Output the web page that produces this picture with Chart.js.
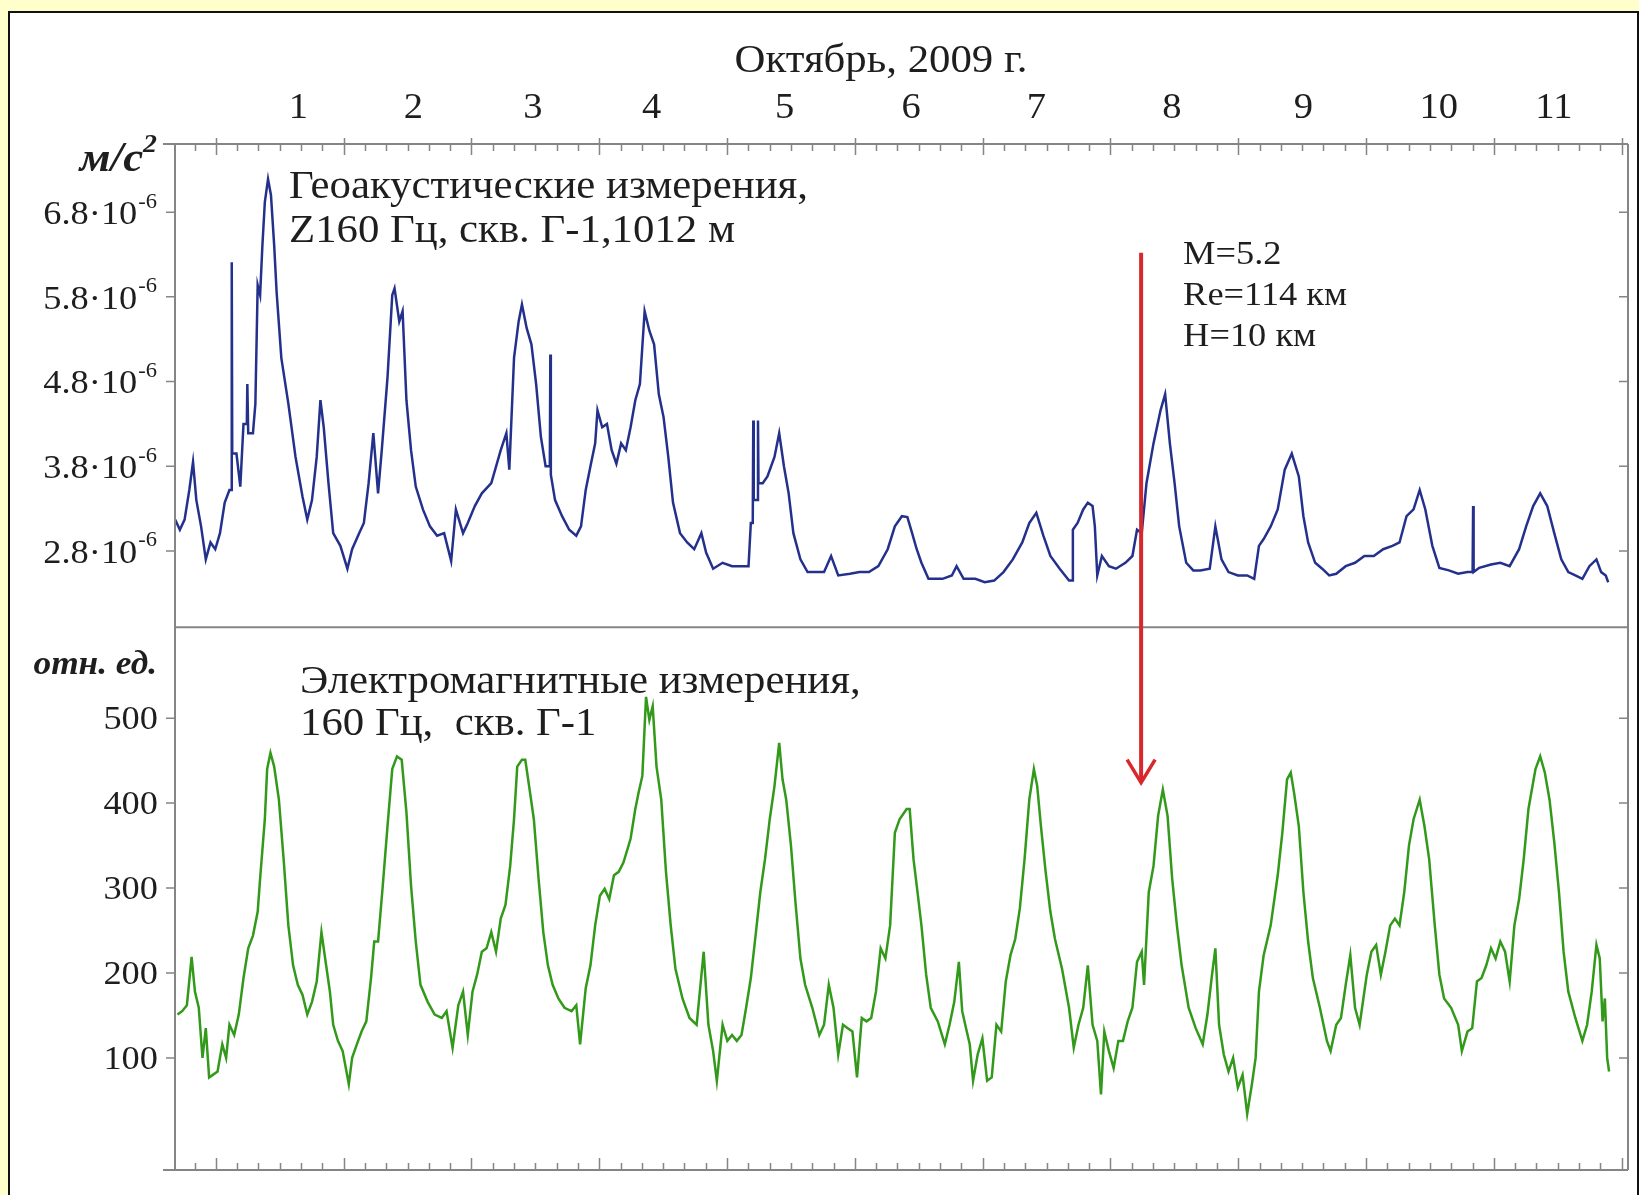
<!DOCTYPE html>
<html>
<head>
<meta charset="utf-8">
<script src="https://cdn.jsdelivr.net/npm/chart.js@4.4.1/dist/chart.umd.min.js"></script>
<style>
  html, body { margin: 0; padding: 0; }
  body { width: 1639px; height: 1195px; background: #ffffcc; position: relative; overflow: hidden; }
  #panel { position: absolute; left: 8px; top: 11px; width: 1627px; height: 1190px; background: #fff; border: 2px solid #111; }
  #wrap { position: absolute; left: 0; top: 0; width: 1639px; height: 1195px; }
</style>
</head>
<body>
<div id="panel"></div>
<div id="wrap"><canvas id="myChart" width="1639" height="1195"></canvas></div>
<script>
// time in days from 1 Oct 2009 00:00
const dayLabels = ['1', '2', '3', '4', '5', '6', '7', '8', '9', '10', '11']
const dayLabelPos = [0.645, 1.545, 2.48, 3.41, 4.45, 5.44, 6.42, 7.48, 8.51, 9.57, 10.47]

const geoTicks = [2.8, 3.8, 4.8, 5.8, 6.8]          // x 10^-6 m/s^2
const emTicks = [100, 200, 300, 400, 500]

// geoacoustic, Z 160 Hz, values in 10^-6 m/s^2
const geoDays = [
  -0.319, -0.282, -0.245, -0.208, -0.179, -0.153, -0.116, -0.079, -0.042, -0.005,
  0.032, 0.069, 0.106, 0.120, 0.124, 0.128, 0.161, 0.191, 0.216, 0.242,
  0.246, 0.253, 0.290, 0.309, 0.327, 0.346, 0.364, 0.383, 0.408, 0.431,
  0.456, 0.475, 0.512, 0.567, 0.623, 0.678, 0.715, 0.752, 0.789, 0.818,
  0.844, 0.881, 0.918, 0.974, 1.029, 1.066, 1.121, 1.158, 1.195, 1.232,
  1.269, 1.298, 1.343, 1.380, 1.398, 1.435, 1.461, 1.491, 1.527, 1.564,
  1.620, 1.675, 1.731, 1.786, 1.841, 1.878, 1.934, 1.971, 2.026, 2.081,
  2.155, 2.229, 2.273, 2.296, 2.333, 2.369, 2.395, 2.432, 2.469, 2.506,
  2.543, 2.580, 2.613, 2.617, 2.621, 2.654, 2.709, 2.765, 2.820, 2.857,
  2.894, 2.931, 2.968, 2.986, 3.023, 3.060, 3.097, 3.134, 3.171, 3.208,
  3.245, 3.282, 3.318, 3.355, 3.392, 3.429, 3.466, 3.503, 3.540, 3.577,
  3.632, 3.688, 3.743, 3.799, 3.836, 3.891, 3.965, 4.039, 4.113, 4.168,
  4.186, 4.201, 4.205, 4.209, 4.223, 4.238, 4.242, 4.246, 4.279, 4.316,
  4.371, 4.408, 4.445, 4.482, 4.519, 4.574, 4.630, 4.704, 4.759, 4.814,
  4.870, 4.962, 5.036, 5.110, 5.184, 5.257, 5.313, 5.368, 5.411, 5.448,
  5.484, 5.521, 5.576, 5.631, 5.686, 5.759, 5.796, 5.851, 5.943, 6.016,
  6.090, 6.163, 6.236, 6.310, 6.365, 6.420, 6.475, 6.530, 6.603, 6.676,
  6.700, 6.706, 6.743, 6.787, 6.823, 6.860, 6.878, 6.897, 6.933, 6.988,
  7.043, 7.117, 7.172, 7.208, 7.245, 7.282, 7.337, 7.392, 7.428, 7.465,
  7.502, 7.538, 7.593, 7.648, 7.703, 7.777, 7.821, 7.869, 7.924, 7.997,
  8.070, 8.125, 8.162, 8.199, 8.254, 8.309, 8.364, 8.419, 8.474, 8.510,
  8.547, 8.602, 8.657, 8.712, 8.767, 8.841, 8.914, 8.987, 9.061, 9.134,
  9.207, 9.262, 9.317, 9.372, 9.420, 9.464, 9.519, 9.574, 9.648, 9.721,
  9.794, 9.834, 9.838, 9.842, 9.886, 9.978, 10.051, 10.124, 10.198, 10.253,
  10.308, 10.363, 10.418, 10.473, 10.528, 10.583, 10.638, 10.693, 10.748, 10.803,
  10.840, 10.876, 10.895
]
const geoValues = [
  3.17, 3.05, 3.17, 3.52, 3.85, 3.40, 3.09, 2.70, 2.90, 2.82,
  3.01, 3.37, 3.52, 3.52, 6.21, 3.95, 3.95, 3.56, 4.30, 4.30,
  4.77, 4.19, 4.19, 4.54, 5.94, 5.82, 6.41, 6.92, 7.19, 7.00,
  6.41, 5.86, 5.08, 4.54, 3.91, 3.44, 3.17, 3.40, 3.91, 4.58,
  4.26, 3.60, 3.01, 2.86, 2.59, 2.82, 3.01, 3.13, 3.60, 4.19,
  3.48, 3.99, 4.85, 5.82, 5.90, 5.51, 5.63, 4.58, 3.99, 3.56,
  3.29, 3.09, 2.98, 3.01, 2.68, 3.29, 3.01, 3.13, 3.33, 3.48,
  3.60, 3.99, 4.19, 3.76, 5.08, 5.51, 5.71, 5.43, 5.24, 4.77,
  4.15, 3.80, 3.80, 5.12, 3.70, 3.40, 3.21, 3.05, 2.98, 3.09,
  3.52, 3.80, 4.07, 4.46, 4.26, 4.30, 3.99, 3.83, 4.07, 3.99,
  4.26, 4.58, 4.77, 5.63, 5.40, 5.24, 4.65, 4.38, 3.91, 3.37,
  3.01, 2.90, 2.82, 3.01, 2.78, 2.59, 2.66, 2.62, 2.62, 2.62,
  3.13, 3.13, 4.34, 3.40, 3.40, 3.40, 4.34, 3.60, 3.60, 3.68,
  3.91, 4.19, 3.80, 3.48, 3.01, 2.70, 2.55, 2.55, 2.55, 2.74,
  2.51, 2.53, 2.55, 2.55, 2.62, 2.82, 3.09, 3.21, 3.20, 3.01,
  2.82, 2.66, 2.47, 2.47, 2.47, 2.51, 2.62, 2.47, 2.47, 2.43,
  2.45, 2.55, 2.70, 2.90, 3.13, 3.25, 2.98, 2.74, 2.59, 2.45,
  2.45, 3.05, 3.13, 3.29, 3.37, 3.33, 3.09, 2.51, 2.74, 2.62,
  2.59, 2.66, 2.74, 3.05, 3.01, 3.60, 4.07, 4.46, 4.65, 4.07,
  3.60, 3.09, 2.66, 2.57, 2.57, 2.59, 3.09, 2.70, 2.55, 2.51,
  2.51, 2.47, 2.86, 2.94, 3.09, 3.29, 3.76, 3.95, 3.68, 3.21,
  2.90, 2.66, 2.59, 2.51, 2.53, 2.62, 2.66, 2.74, 2.74, 2.82,
  2.86, 2.90, 3.21, 3.29, 3.52, 3.29, 2.86, 2.60, 2.57, 2.53,
  2.55, 2.55, 3.33, 2.55, 2.60, 2.64, 2.66, 2.62, 2.82, 3.09,
  3.33, 3.48, 3.33, 3.01, 2.70, 2.55, 2.51, 2.47, 2.62, 2.70,
  2.55, 2.51, 2.43
]

// electromagnetic, 160 Hz, relative units
const emDays = [
  -0.301, -0.264, -0.227, -0.190, -0.164, -0.134, -0.105, -0.079, -0.053, -0.024,
  0.013, 0.050, 0.080, 0.106, 0.143, 0.179, 0.216, 0.253, 0.290, 0.327,
  0.346, 0.383, 0.401, 0.427, 0.456, 0.493, 0.530, 0.567, 0.604, 0.641,
  0.678, 0.715, 0.752, 0.789, 0.826, 0.855, 0.892, 0.918, 0.955, 0.992,
  1.040, 1.066, 1.103, 1.140, 1.177, 1.214, 1.239, 1.269, 1.306, 1.343,
  1.380, 1.417, 1.454, 1.491, 1.527, 1.564, 1.601, 1.657, 1.712, 1.768,
  1.805, 1.852, 1.897, 1.934, 1.971, 2.008, 2.044, 2.081, 2.118, 2.155,
  2.192, 2.229, 2.266, 2.303, 2.333, 2.358, 2.395, 2.421, 2.451, 2.488,
  2.525, 2.562, 2.598, 2.635, 2.680, 2.728, 2.783, 2.820, 2.850, 2.894,
  2.931, 2.968, 3.005, 3.042, 3.078, 3.115, 3.152, 3.189, 3.245, 3.282,
  3.307, 3.337, 3.366, 3.392, 3.418, 3.448, 3.485, 3.522, 3.559, 3.596,
  3.651, 3.706, 3.762, 3.817, 3.854, 3.891, 3.920, 3.965, 4.002, 4.039,
  4.076, 4.113, 4.149, 4.186, 4.223, 4.260, 4.297, 4.334, 4.371, 4.408,
  4.434, 4.463, 4.500, 4.537, 4.574, 4.611, 4.667, 4.722, 4.759, 4.796,
  4.833, 4.870, 4.907, 4.944, 4.981, 5.017, 5.054, 5.091, 5.128, 5.165,
  5.202, 5.239, 5.276, 5.313, 5.350, 5.405, 5.429, 5.459, 5.484, 5.521,
  5.558, 5.594, 5.649, 5.704, 5.741, 5.778, 5.814, 5.840, 5.870, 5.899,
  5.925, 5.961, 5.998, 6.035, 6.071, 6.108, 6.145, 6.181, 6.218, 6.255,
  6.291, 6.328, 6.365, 6.401, 6.427, 6.456, 6.493, 6.530, 6.566, 6.621,
  6.676, 6.713, 6.750, 6.787, 6.823, 6.860, 6.897, 6.926, 6.952, 6.988,
  7.025, 7.062, 7.098, 7.135, 7.172, 7.208, 7.245, 7.263, 7.300, 7.337,
  7.373, 7.410, 7.447, 7.483, 7.520, 7.557, 7.612, 7.667, 7.722, 7.759,
  7.795, 7.821, 7.850, 7.887, 7.924, 7.960, 7.997, 8.034, 8.070, 8.107,
  8.136, 8.162, 8.199, 8.254, 8.309, 8.345, 8.382, 8.411, 8.437, 8.474,
  8.510, 8.547, 8.584, 8.639, 8.694, 8.723, 8.767, 8.804, 8.841, 8.877,
  8.914, 8.950, 9.006, 9.042, 9.079, 9.116, 9.152, 9.189, 9.226, 9.262,
  9.299, 9.336, 9.372, 9.420, 9.457, 9.494, 9.538, 9.574, 9.611, 9.666,
  9.721, 9.750, 9.794, 9.831, 9.868, 9.904, 9.941, 9.978, 10.014, 10.051,
  10.088, 10.124, 10.161, 10.198, 10.234, 10.271, 10.326, 10.363, 10.399, 10.436,
  10.473, 10.510, 10.546, 10.583, 10.638, 10.693, 10.730, 10.766, 10.803, 10.829,
  10.851, 10.869, 10.887, 10.902
]
const emValues = [
  151, 155, 162, 219, 178, 159, 100, 135, 77, 80,
  84, 116, 100, 139, 127, 151, 194, 229, 244, 272,
  311, 381, 440, 459, 443, 404, 334, 256, 209, 186,
  174, 151, 166, 190, 248, 217, 178, 139, 120, 108,
  69, 100, 116, 131, 143, 194, 237, 237, 303, 373,
  440, 455, 451, 389, 303, 237, 186, 166, 151, 147,
  155, 112, 162, 178, 127, 178, 198, 225, 229, 248,
  225, 264, 280, 326, 381, 443, 451, 451, 420, 381,
  311, 248, 209, 186, 170, 159, 155, 162, 116, 182,
  209, 256, 291, 299, 287, 315, 319, 330, 358, 393,
  412, 432, 525, 498, 514, 443, 404, 319, 256, 205,
  170, 147, 139, 225, 139, 108, 73, 139, 120, 127,
  120, 127, 159, 194, 244, 295, 334, 381, 420, 471,
  428, 404, 350, 280, 217, 186, 159, 127, 139, 186,
  159, 104, 139, 135, 131, 77, 147, 143, 147, 178,
  229, 217, 256, 365, 381, 393, 393, 334, 303, 256,
  198, 159, 143, 116, 139, 166, 213, 155, 135, 116,
  73, 104, 123, 73, 77, 139, 131, 190, 221, 240,
  276, 334, 404, 440, 420, 373, 319, 272, 240, 205,
  159, 112, 139, 159, 209, 139, 120, 57, 131, 108,
  88, 120, 120, 143, 159, 213, 225, 186, 295, 326,
  385, 416, 385, 311, 256, 209, 159, 135, 116, 151,
  198, 229, 139, 104, 84, 100, 65, 80, 34, 69,
  100, 178, 221, 256, 315, 365, 428, 436, 412, 373,
  295, 237, 194, 159, 120, 108, 139, 147, 186, 221,
  159, 139, 198, 225, 233, 198, 225, 256, 264, 256,
  295, 350, 381, 404, 373, 334, 256, 198, 170, 159,
  139, 108, 131, 135, 190, 194, 209, 229, 217, 237,
  225, 190, 256, 287, 334, 393, 440, 455, 436, 404,
  354, 295, 225, 178, 147, 120, 139, 178, 233, 217,
  143, 170, 100, 84
]

// earthquake marker
const eventDay = 7.24
const eventText = ['M=5.2', 'Re=114 км', 'H=10 км']

const serif = '"Liberation Serif", "Times New Roman", serif'
const stretch = 1.07
const axisColor = '#858585'
const inkColor = '#1e1e1e'

function txt(ctx, s, x, y, size, align, weight) {
  ctx.save()
  ctx.font = (weight || '') + ' ' + size + 'px ' + serif
  ctx.textAlign = align
  ctx.textBaseline = 'middle'
  ctx.fillStyle = inkColor
  ctx.translate(x, y)
  ctx.scale(stretch, 1)
  ctx.fillText(s, 0, 0)
  ctx.restore()
}
function txtWidth(ctx, s, size, weight) {
  ctx.save()
  ctx.font = (weight || '') + ' ' + size + 'px ' + serif
  const w = ctx.measureText(s).width * stretch
  ctx.restore()
  return w
}

const framePlugin = {
  id: 'frame',
  afterDatasetsDraw(chart) {
    const ctx = chart.ctx
    const x = chart.scales.x, yG = chart.scales.yGeo, yE = chart.scales.yEm
    const a = chart.chartArea
    const mid = yG.getPixelForValue(1.9)

    ctx.save()
    ctx.strokeStyle = axisColor
    ctx.lineWidth = 2
    ctx.beginPath()
    ctx.moveTo(a.left - 12, a.top); ctx.lineTo(a.right, a.top)
    ctx.moveTo(a.left - 12, a.bottom); ctx.lineTo(a.right, a.bottom)
    ctx.moveTo(a.left, mid); ctx.lineTo(a.right, mid)
    ctx.moveTo(a.left, a.top); ctx.lineTo(a.left, a.bottom)
    ctx.moveTo(a.right, a.top); ctx.lineTo(a.right, a.bottom)
    ctx.stroke()

    // time ticks, every 4 hours, inward on top and bottom
    ctx.lineWidth = 1.5
    ctx.beginPath()
    for (let k = -6; k <= 72; k++) {
      const t = k / 6
      if (t <= x.min || t >= x.max) continue
      const px = Math.round(x.getPixelForValue(t)) + 0.5
      const major = k % 6 === 0
      ctx.moveTo(px, a.top - (major ? 6 : 0)); ctx.lineTo(px, a.top + (major ? 11 : 7))
      ctx.moveTo(px, a.bottom); ctx.lineTo(px, a.bottom - (major ? 12 : 7))
    }
    // value ticks, outward left, inward right
    geoTicks.forEach(v => {
      const py = yG.getPixelForValue(v)
      ctx.moveTo(a.left - 9, py); ctx.lineTo(a.left, py)
      ctx.moveTo(a.right - 9, py); ctx.lineTo(a.right, py)
    })
    emTicks.forEach(v => {
      const py = yE.getPixelForValue(v)
      ctx.moveTo(a.left - 9, py); ctx.lineTo(a.left, py)
      ctx.moveTo(a.right - 9, py); ctx.lineTo(a.right, py)
    })
    ctx.stroke()
    ctx.restore()

    // tick labels
    const lx = a.left - 18
    geoTicks.forEach(v => {
      const py = yG.getPixelForValue(v) + 3
      const sw = txtWidth(ctx, '-6', 21)
      txt(ctx, '-6', lx, py - 13, 21, 'right')
      txt(ctx, v.toFixed(1) + '·10', lx - sw - 1, py, 34, 'right')
    })
    emTicks.forEach(v => {
      txt(ctx, String(v), a.left - 17, yE.getPixelForValue(v) + 2, 34, 'right')
    })
    dayLabels.forEach((s, i) => {
      txt(ctx, s, x.getPixelForValue(dayLabelPos[i]), 109, 36, 'center')
    })
    txt(ctx, 'Октябрь, 2009 г.', 881, 61, 40, 'center')

    // units
    const w2 = txtWidth(ctx, '2', 26, 'italic bold')
    txt(ctx, '2', a.left - 18, a.top + 1, 26, 'right', 'italic bold')
    txt(ctx, 'м/с', a.left - 18 - w2, a.top + 16, 42, 'right', 'italic bold')
    txt(ctx, 'отн. ед.', a.left - 18, mid + 38, 33, 'right', 'italic bold')

    // panel captions
    txt(ctx, 'Геоакустические измерения,', 289, 187, 40, 'left')
    txt(ctx, 'Z160 Гц, скв. Г-1,1012 м', 289, 231, 40, 'left')
    txt(ctx, 'Электромагнитные измерения,', 300, 682, 40, 'left')
    txt(ctx, '160 Гц,  скв. Г-1', 300, 724, 40, 'left')

    // earthquake arrow
    const ax = x.getPixelForValue(eventDay)
    const top = yG.getPixelForValue(6.32)
    const tip = yE.getPixelForValue(424)
    ctx.save()
    ctx.strokeStyle = '#d8282c'
    ctx.lineWidth = 4
    ctx.beginPath()
    ctx.moveTo(ax, top); ctx.lineTo(ax, tip - 2)
    ctx.stroke()
    ctx.lineWidth = 3.5
    ctx.beginPath()
    ctx.moveTo(ax - 14, tip - 23); ctx.lineTo(ax, tip); ctx.lineTo(ax + 14, tip - 23)
    ctx.stroke()
    ctx.restore()
    eventText.forEach((s, i) => {
      txt(ctx, s, ax + 42, 255 + i * 41, 34, 'left')
    })
  }
}

const geoPoints = geoDays.map((d, i) => ({x: d, y: geoValues[i]}))
const emPoints = emDays.map((d, i) => ({x: d, y: emValues[i]}))

new Chart('myChart', {
  type: 'line',
  data: {
    datasets: [
      {
        data: geoPoints,
        yAxisID: 'yGeo',
        borderColor: '#24318c',
        borderWidth: 2.5,
        pointRadius: 0,
        tension: 0
      },
      {
        data: emPoints,
        yAxisID: 'yEm',
        borderColor: '#32991b',
        borderWidth: 2.5,
        pointRadius: 0,
        tension: 0
      }
    ]
  },
  options: {
    responsive: false,
    animation: false,
    devicePixelRatio: 1,
    events: [],
    layout: {padding: {left: 175, top: 144, right: 11, bottom: 25}},
    plugins: {
      legend: {display: false},
      tooltip: {enabled: false},
      title: {display: false}
    },
    scales: {
      x: {type: 'linear', min: -0.32, max: 11.05, display: false},
      yGeo: {type: 'linear', min: -4.51, max: 7.605, display: false},
      yEm: {type: 'linear', min: -32, max: 1176, display: false}
    }
  },
  plugins: [framePlugin]
});
</script>
</body>
</html>
